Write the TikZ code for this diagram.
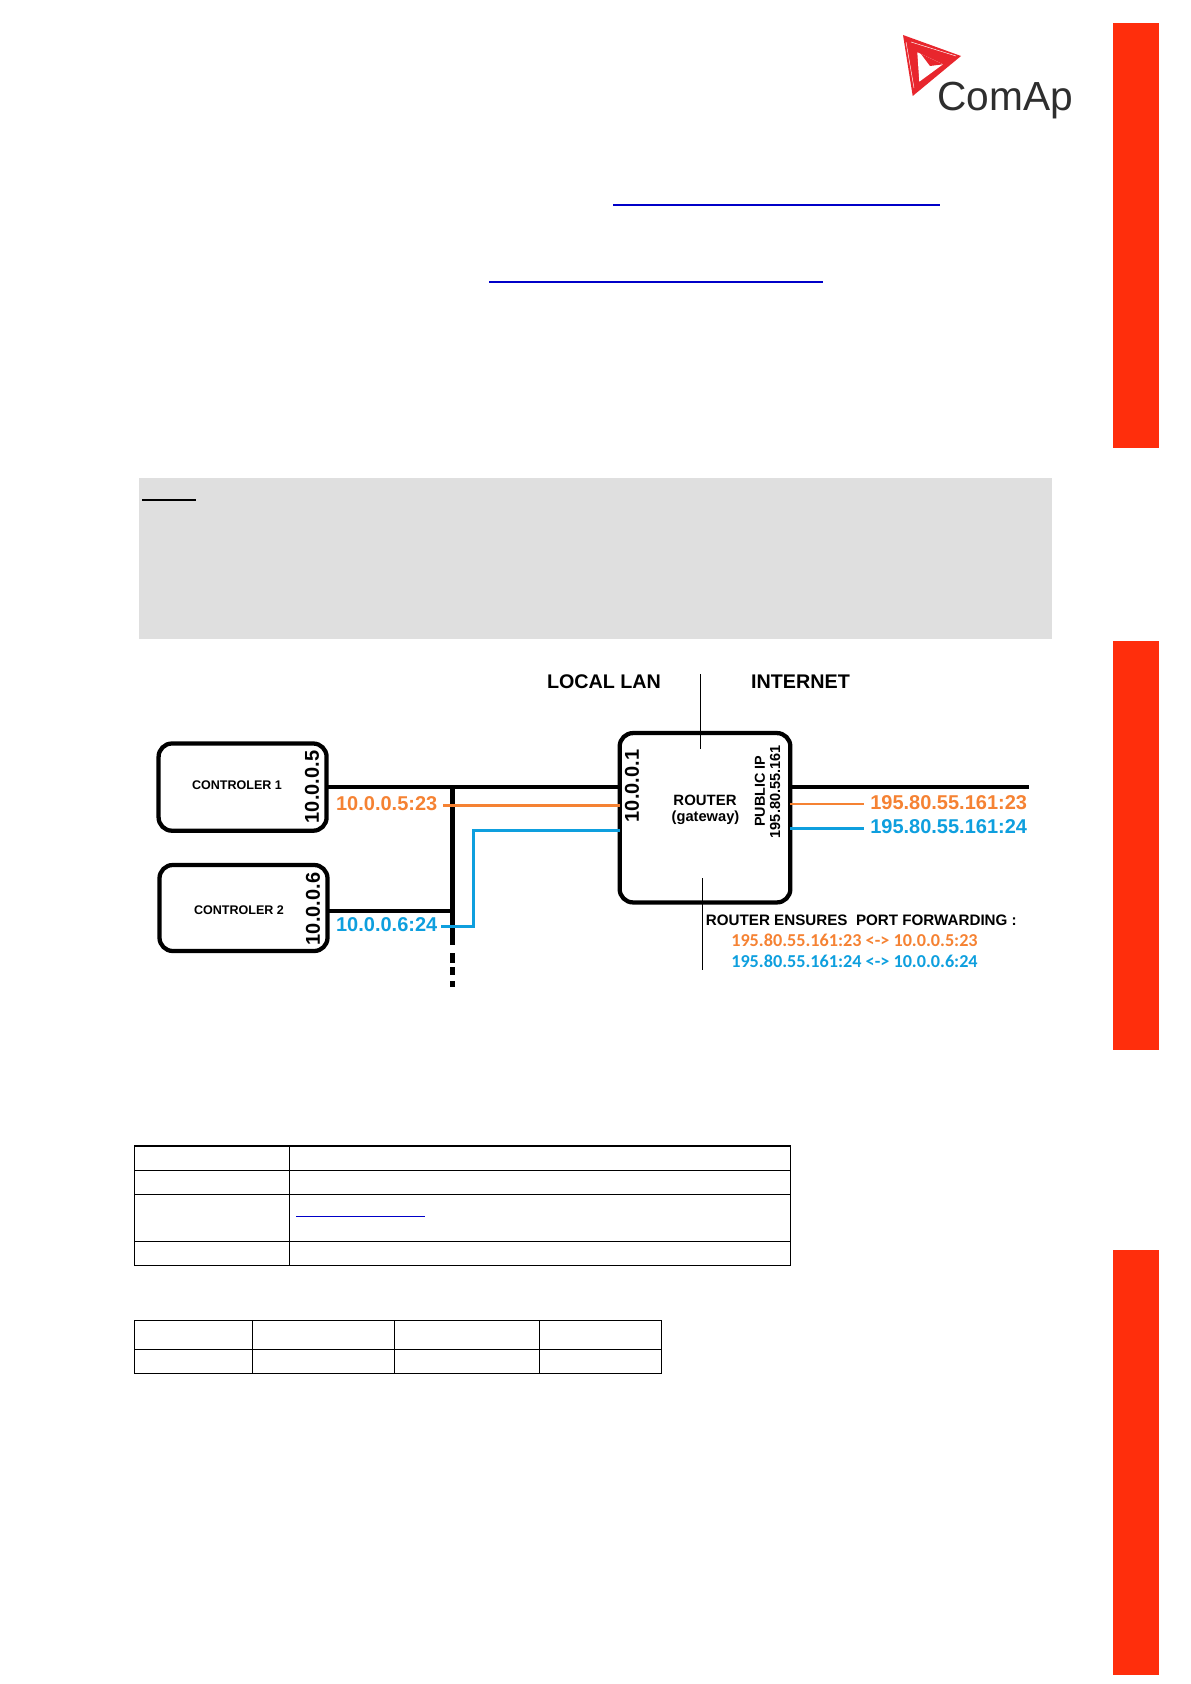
\documentclass[tikz,border=0pt]{standalone}
\usepackage{fontspec}
\setmainfont{Liberation Sans}
\newfontfamily\carl{Carlito}
\definecolor{barred}{HTML}{FF2E0C}
\definecolor{logored}{HTML}{E8262D}
\definecolor{orangeline}{HTML}{F58233}
\definecolor{blueline}{HTML}{0E9FDE}
\definecolor{linkblue}{HTML}{0000C8}
\definecolor{panel}{HTML}{DFDFDF}
\newcommand{\fpx}[1]{\fontsize{#1}{#1}\selectfont}
\tikzset{
  devbox/.style={draw=black,line width=3.2pt,rounded corners=10pt,inner sep=0pt,outer sep=0pt},
  busline/.style={line width=3pt,black},
  orangewire/.style={line width=2.2pt,orangeline},
  bluewire/.style={line width=2.2pt,blueline},
  divider/.style={line width=.8pt,black},
  tablerule/.style={line width=1.1pt,black},
  linkrule/.style={line width=1.5pt,linkblue},
  redbar/.style={fill=barred,draw=none},
  ipv/.style={rotate=90,font=\bfseries\fpx{15},inner sep=0pt},
  ctl/.style={font=\bfseries\fpx{9.4},inner sep=0pt},
  head/.style={font=\bfseries\fpx{14.8},inner sep=0pt},
  portb/.style={font=\bfseries\fpx{15},inner sep=0pt},
  portc/.style={font=\carl\bfseries\fpx{13.65},inner sep=0pt,anchor=west},
}
\begin{document}
\begin{tikzpicture}[x=0.75pt,y=-0.75pt]
\useasboundingbox (0,0) rectangle (1191,1684);
% side bars
\fill[redbar] (1113,23) rectangle (1159,448);
\fill[redbar] (1113,641) rectangle (1159,1050);
\fill[redbar] (1113,1249.5) rectangle (1159,1675);
% logo
\fill[logored] (903,35) -- (961,56) -- (912.7,96) -- cycle;
\fill[white] (917.3,52.3) -- (943,64.3) -- (919.3,81.7) -- cycle;
\fill[logored] (921,54) -- (943,64.3) -- (930,66) -- cycle;
\draw[white,line width=.35pt] (906,42) -- (914,88);
\draw[white,line width=.35pt] (911,42) -- (956,56);
\node[anchor=base west,inner sep=0pt,text=black!82,font=\fpx{30.5}] (logotext) at (937,110) {ComAp};
% text-page rules
\draw[linkrule] (613,204.7) -- (940,204.7);
\draw[linkrule] (489,282) -- (823,282);
\fill[panel] (139,478) rectangle (1052,639);
\draw[line width=1.5pt,black] (142,500) -- (196,500);
% devices
\node[devbox,minimum width=126pt,minimum height=65.4pt] (c1) at (242.6,787.1) {};
\node[devbox,minimum width=126pt,minimum height=64.5pt] (c2) at (243.5,908) {};
\node[devbox,minimum width=128pt,minimum height=127pt] (router) at (705,817.75) {};
\node[ctl] (c1name) at (237,785) {CONTROLER 1};
\node[ctl] (c2name) at (239,909.7) {CONTROLER 2};
\node[ipv] (ip1) at (312,787) {10.0.0.5};
\node[ipv] (ip2) at (313,909) {10.0.0.6};
\node[ipv] (ipr) at (632,786) {10.0.0.1};
\node[rotate=90,inner sep=0pt,font=\bfseries\fpx{10.8}] (pub) at (760,791) {PUBLIC IP};
\node[rotate=90,inner sep=0pt,font=\bfseries\fpx{10.9}] (pubip) at (775,791.7) {195.80.55.161};
\node[inner sep=0pt,font=\bfseries\fpx{11.2}] (rname) at (705,800) {ROUTER};
\node[inner sep=0pt,font=\bfseries\fpx{11}] (gw) at (705.5,818) {(gateway)};
% bus
\coordinate (busjoin) at (452.3,787.1);
\coordinate (busend) at (452.3,945);
\coordinate (c2out) at (329,911);
\coordinate (c2join) at (452.3,911);
\coordinate (inetend) at (1029.3,787);
\draw[busline] (c1.east) -- (c1.east -| router.west);
\draw[line width=3.5pt,black] (busjoin) -- (busend);
\draw[busline] (c2out) -- (c2join);
\coordinate (d1a) at (452.3,953); \coordinate (d1b) at (452.3,963);
\coordinate (d2a) at (452.3,967); \coordinate (d2b) at (452.3,975);
\coordinate (d3a) at (452.3,981); \coordinate (d3b) at (452.3,987);
\draw[line width=3.5pt,black] (d1a) -- (d1b) (d2a) -- (d2b) (d3a) -- (d3b);
% wires, left
\node[portb,text=orangeline] (lab1) at (386.7,804) {10.0.0.5:23};
\node[portb,text=blueline] (lab2) at (386.7,925) {10.0.0.6:24};
\coordinate (owl) at (443,805.3);
\coordinate (bwl) at (441,926.3);
\coordinate (bwk) at (473.3,926.3);
\coordinate (bwt) at (473.3,830.3);
\draw[orangewire] (owl) -- (owl -| router.west);
\draw[bluewire] (bwl) -- (bwk) -- (bwt) -- (bwt -| router.west);
% wires, right
\draw[busline] (router.east |- inetend) -- (inetend);
\node[portb,anchor=west,text=orangeline] (lab3) at (870,803) {195.80.55.161:23};
\node[portb,anchor=west,text=blueline] (lab4) at (870,826.7) {195.80.55.161:24};
\coordinate (owr) at (864,803.7);
\coordinate (bwr) at (864,828.3);
\draw[line width=1.5pt,orangeline] (router.east |- owr) -- (owr);
\draw[bluewire] (router.east |- bwr) -- (bwr);
% headings, dividers
\node[head] (lan) at (604,681.5) {LOCAL LAN};
\node[head] (inet) at (800.5,681.5) {INTERNET};
\coordinate (dua) at (700.3,674); \coordinate (dub) at (700.3,749);
\coordinate (dda) at (702.3,878); \coordinate (ddb) at (702.3,970);
\draw[divider] (dua) -- (dub);
\draw[divider] (dda) -- (ddb);
% forwarding notes
\node[anchor=west,inner sep=0pt,font=\bfseries\fpx{11.38}] (fw) at (705.7,920.7) {ROUTER ENSURES\ \ PORT FORWARDING :};
\node[portc,text=orangeline] (fw1) at (731,940) {195.80.55.161:23 <-> 10.0.0.5:23};
\node[portc,text=blueline] (fw2) at (731,961.7) {195.80.55.161:24 <-> 10.0.0.6:24};
% table 1
\draw[tablerule] (134.3,1146) rectangle (790.5,1265.3);
\draw[tablerule] (134.3,1170.3) -- (790.5,1170.3);
\draw[tablerule] (134.3,1194.3) -- (790.5,1194.3);
\draw[tablerule] (134.3,1241.3) -- (790.5,1241.3);
\draw[tablerule] (289.6,1146) -- (289.6,1265.3);
\draw[line width=.9pt,linkblue] (296,1216.3) -- (425,1216.3);
% table 2
\draw[tablerule] (134.3,1320.3) rectangle (661.5,1373.3);
\draw[tablerule] (134.3,1349.3) -- (661.5,1349.3);
\draw[tablerule] (252.6,1320.3) -- (252.6,1373.3);
\draw[tablerule] (394.5,1320.3) -- (394.5,1373.3);
\draw[tablerule] (539.6,1320.3) -- (539.6,1373.3);
\end{tikzpicture}
\end{document}
